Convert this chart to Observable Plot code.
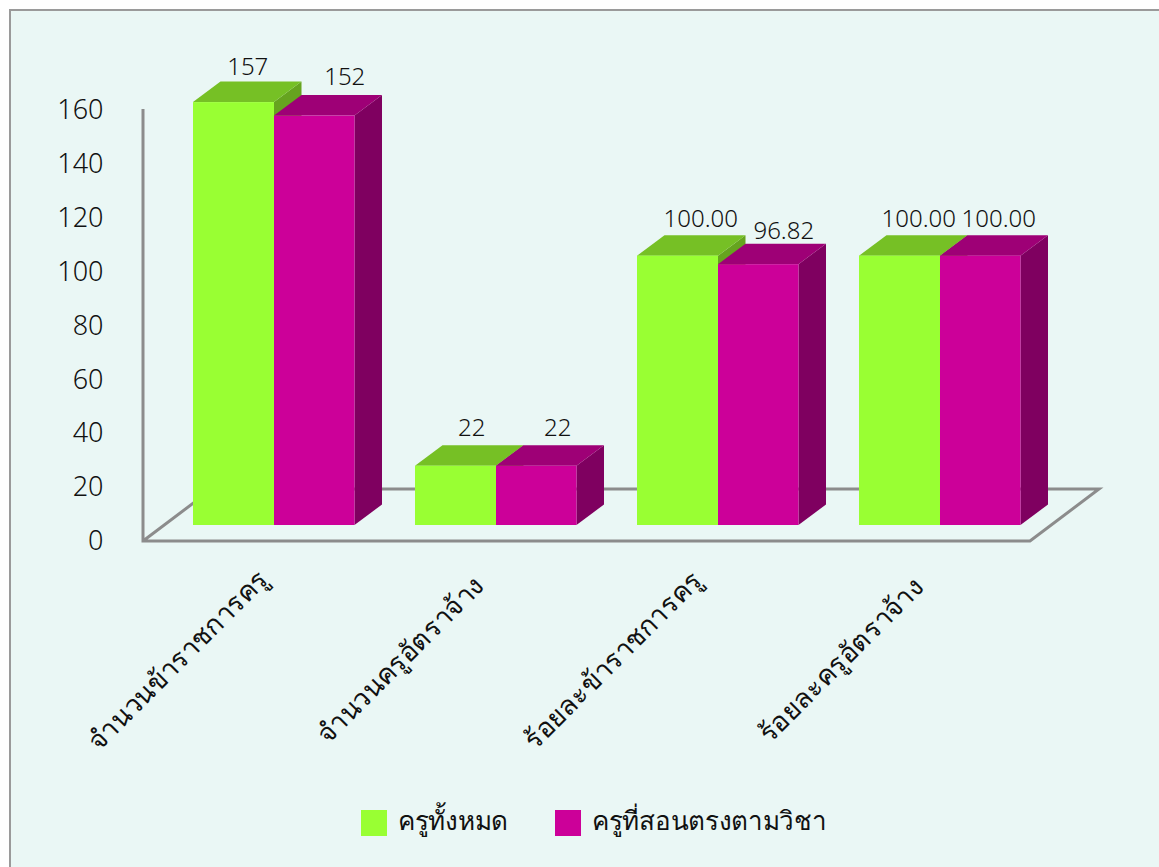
<!DOCTYPE html>
<html lang="th"><head><meta charset="utf-8">
<script src="https://cdn.jsdelivr.net/npm/d3@7"></script>
<script src="https://cdn.jsdelivr.net/npm/@observablehq/plot@0.6"></script>
<style>
html,body{margin:0;padding:0;background:#fff;}
#card{position:absolute;left:9px;top:9px;width:1150px;height:858px;box-sizing:border-box;background:#EAF7F5;border-left:2px solid #9a9a9a;border-top:2px solid #9a9a9a;overflow:hidden;font-family:"Noto Sans","DejaVu Sans",sans-serif;}
#chart{position:absolute;left:-11px;top:-11px;}
#legend{position:absolute;left:-11px;top:786px;width:1159px;height:50px;color:#111;font-size:26px;letter-spacing:-0.3px;font-weight:300;}
#legend span{position:absolute;white-space:nowrap;line-height:30px;}
#legend i{position:absolute;width:26px;height:26px;top:13px;}
svg text{font-weight:300;}
</style></head><body>
<div id="card"><div id="chart"></div><div id="legend"></div></div>
<script>
const categories = ["จำนวนข้าราชการครู","จำนวนครูอัตราจ้าง","ร้อยละข้าราชการครู","ร้อยละครูอัตราจ้าง"];
const seriesNames = ["ครูทั้งหมด","ครูที่สอนตรงตามวิชา"];
const allTeachers = [157,22,100,100];
const matchingTeachers = [152,22,96.82,100];
const valueLabels = [["157","22","100.00","100.00"],["152","22","96.82","100.00"]];
const yTicks = [0,20,40,60,80,100,120,140,160];
const frontColors = ["#99FF33","#CC0099"];
const topColors = ["#76C025","#9E0076"];
const sideColors = ["#66A41F","#7F0060"];

const labelNudge = [[[8,-3],[10,-5],[17,-4],[13,-4]],[[24,-6],[15,-5],[19,-1],[12,-4]]];
const categoryNudge = [7,7,-2,4];

const rows = categories.flatMap((c,i)=>[allTeachers,matchingTeachers].map((vals,j)=>({category:c,series:seriesNames[j],seriesIndex:j,categoryIndex:i,value:vals[i],label:valueLabels[j][i]})));

const barW=81, floorDx=69, floorDy=52, barShiftX=20, barShiftY=16, depthX=27.5, depthY=20.5;
const W=1159, H=790, marginLeft=143, marginRight=W-1030, marginTop=110, marginBottom=H-541;

function face(kind){
  return (index,scales,values,dimensions,context,next)=>{
    const g=next(index,scales,values,dimensions,context);
    g.querySelectorAll("rect").forEach(r=>{
      const x=+r.getAttribute("x"),y=+r.getAttribute("y"),w=+r.getAttribute("width"),h=+r.getAttribute("height");
      const pts=kind==="top"
        ?[[x,y],[x+w,y],[x+w+depthX,y-depthY],[x+depthX,y-depthY]]
        :[[x+w,y],[x+w+depthX,y-depthY],[x+w+depthX,y+h-depthY],[x+w,y+h]];
      const p=document.createElementNS("http://www.w3.org/2000/svg","polygon");
      p.setAttribute("points",pts.join(" "));
      p.setAttribute("fill",r.getAttribute("fill"));
      r.replaceWith(p);
    });
    return g;
  };
}
function floor(index,scales,values,dimensions){
  const {marginLeft:l,marginRight:r,marginTop:t,marginBottom:b,width,height}=dimensions;
  const x0=l,x1=width-r,y0=height-b;
  const path=d3.path();
  path.moveTo(x0,t-1);path.lineTo(x0,y0);path.lineTo(x1,y0);
  path.lineTo(x1+floorDx,y0-floorDy);path.lineTo(x0+floorDx,y0-floorDy);path.lineTo(x0,y0);
  const p=document.createElementNS("http://www.w3.org/2000/svg","path");
  p.setAttribute("d",path.toString());
  p.setAttribute("fill","none");p.setAttribute("stroke","#8c8c8c");p.setAttribute("stroke-width","3");
  return p;
}
const barMarks=[0,1].map(j=>{
  const data=rows.filter(d=>d.seriesIndex===j);
  const inset=j===0?{insetRight:barW}:{insetLeft:barW,insetRight:0.5};
  return {j,data,base:{x:"category",y:"value",dx:barShiftX,dy:-barShiftY,...inset}};
});

const plot=Plot.plot({
  width:W,height:H,marginLeft,marginRight,marginTop,marginBottom,
  style:{background:"transparent",fontFamily:'"Noto Sans","DejaVu Sans",sans-serif',overflow:"visible"},
  x:{type:"band",domain:categories,range:[143,1031],paddingInner:60/222,paddingOuter:30/222,axis:null,round:false},
  y:{domain:[0,160],axis:null},
  marks:[
    floor,
    Plot.axisY({ticks:yTicks,tickSize:0,tickPadding:40,fontSize:27,label:null,color:"#111"}),
    ...barMarks.flatMap(({j,data,base})=>[
      Plot.barY(data,{...base,fill:sideColors[j],render:face("side")}),
      Plot.barY(data,{...base,fill:topColors[j],render:face("top")}),
      Plot.barY(data,{...base,fill:frontColors[j]})
    ]),
    ...rows.map(d=>{
      const [nx,ny]=labelNudge[d.seriesIndex][d.categoryIndex];
      return Plot.text([d],{x:"category",y:"value",text:"label",dx:barShiftX+(d.seriesIndex===0?-barW/2:barW/2)+depthX/2-8+nx,dy:-barShiftY-depthY-12+ny,fontSize:24,fill:"#111"});
    }),
    ...categories.map((c,i)=>Plot.text([c],{x:d=>d,frameAnchor:"bottom",text:d=>d,rotate:-45,dx:-77+categoryNudge[i],dy:125,fontSize:27,fill:"#111"}))
  ]
});
document.getElementById("chart").append(plot);
const lg=document.getElementById("legend");
const legendLeft=[361,555], textLeft=[398,592];
seriesNames.forEach((s,j)=>{
  const sw=document.createElement("i");sw.style.left=legendLeft[j]+"px";sw.style.background=frontColors[j];lg.append(sw);
  const t=document.createElement("span");t.style.left=textLeft[j]+"px";t.style.top="8px";t.textContent=s;lg.append(t);
});
</script></body></html>
